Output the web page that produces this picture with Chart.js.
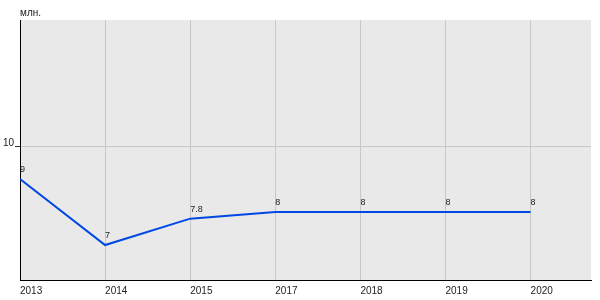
<!DOCTYPE html>
<html>
<head>
<meta charset="utf-8">
<script src="https://cdn.jsdelivr.net/npm/chart.js@4/dist/chart.umd.min.js"></script>
<style>
  html, body { margin: 0; padding: 0; background: #fff; }
  #wrap { width: 600px; height: 300px; }
</style>
</head>
<body>
<div id="wrap"><canvas id="grafica" width="600" height="300"></canvas></div>
<script>
const years = ["2013", "2014", "2015", "2017", "2018", "2019", "2020"];
const values = [9, 7, 7.8, 8, 8, 8, 8];
const yTicks = [10];
const unitLabel = "млн.";

const puntos = values.map((v, i) => ({ x: i, y: v }));

// fondo gris del area, unidad arriba, etiqueta del eje y y etiquetas de los puntos
const extras = {
  id: "extras",
  beforeDraw(chart) {
    const { ctx, chartArea: a } = chart;
    ctx.save();
    ctx.fillStyle = "#e9e9e9";
    ctx.fillRect(a.left, a.top, a.right - a.left, a.bottom - a.top);
    ctx.restore();
  },
  afterDatasetsDraw(chart) {
    const { ctx, chartArea: a } = chart;
    const yScale = chart.scales.y;
    ctx.save();
    ctx.fillStyle = "#222";
    ctx.font = "10px 'Liberation Sans', Arial, sans-serif";
    ctx.textAlign = "left";
    ctx.textBaseline = "alphabetic";
    ctx.fillText(unitLabel, a.left, 16);
    ctx.textAlign = "right";
    yTicks.forEach(v => {
      ctx.fillText(String(v), a.left - 6, yScale.getPixelForValue(v) - 0.5);
    });
    ctx.textAlign = "left";
    ctx.font = "9px 'Liberation Sans', Arial, sans-serif";
    chart.getDatasetMeta(0).data.forEach((p, i) => {
      ctx.fillText(String(values[i]), p.x, p.y - 7);
    });
    ctx.restore();
  }
};

const ctx = document.getElementById("grafica").getContext("2d");
new Chart(ctx, {
  type: "line",
  data: {
    datasets: [{
      data: puntos,
      borderColor: "#0048e4",
      borderWidth: 2,
      pointRadius: 0,
      tension: 0,
      fill: false
    }]
  },
  options: {
    responsive: false,
    animation: false,
    layout: { padding: { top: 20, right: 9, bottom: 0, left: 0 } },
    plugins: {
      legend: { display: false },
      tooltip: { enabled: false }
    },
    scales: {
      x: {
        type: "linear",
        min: 0,
        max: 6.71,
        afterBuildTicks: s => { s.ticks = years.map((y, i) => ({ value: i })); },
        afterFit: s => { s.height = 20; },
        grid: { color: "#c8c8c8", lineWidth: 1, drawTicks: false },
        border: { color: "#000", width: 1 },
        ticks: {
          align: "start",
          padding: 5,
          color: "#222",
          font: { family: "'Liberation Sans', Arial, sans-serif", size: 10 },
          callback: v => years[v] ?? ""
        }
      },
      y: {
        min: 5.94,
        max: 13.82,
        afterBuildTicks: s => { s.ticks = yTicks.map(v => ({ value: v })); },
        afterFit: s => { s.width = 20; },
        grid: { color: "#c8c8c8", lineWidth: 1, tickLength: 5, tickColor: "#333" },
        border: { color: "#000", width: 1 },
        ticks: { display: false }
      }
    }
  },
  plugins: [extras]
});
</script>
</body>
</html>
